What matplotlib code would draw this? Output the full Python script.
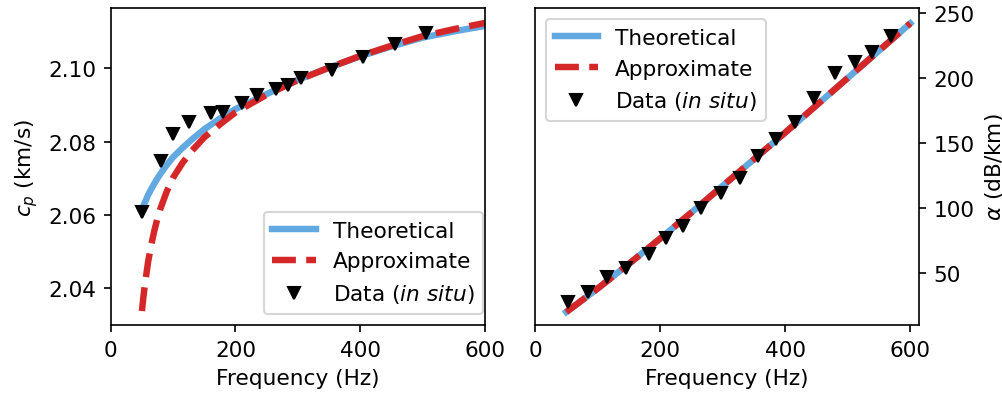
import matplotlib
matplotlib.use("Agg")
import matplotlib.pyplot as plt

plt.rcParams['font.size'] = 10.4

# ---- data: left panel (phase velocity) ----
freq_curve = [50, 52.5, 55, 60, 65, 70, 75, 80, 90, 100, 115, 130, 150, 175, 200, 250, 300, 350, 400, 450, 500, 550, 600]
cp_theory = [2.0615, 2.0625, 2.0635, 2.0655, 2.0671, 2.0686, 2.0700, 2.0713, 2.0737, 2.0758, 2.0783,
             2.0806, 2.0834, 2.0863, 2.0889, 2.0930, 2.0969, 2.1002, 2.1033, 2.1060, 2.1084, 2.1101, 2.1116]
cp_approx = [2.0338, 2.0378, 2.0413, 2.0473, 2.0519, 2.0558, 2.0591, 2.0619, 2.0665, 2.0702, 2.0742,
             2.0775, 2.0812, 2.0847, 2.0880, 2.0928, 2.0968, 2.1002, 2.1034, 2.1062, 2.1088, 2.1107, 2.1124]
freq_cp_data = [50, 80, 100, 125, 160, 180, 210, 235, 265, 285, 305, 355, 405, 455, 505]
cp_data = [2.0607, 2.0748, 2.0822, 2.0854, 2.0877, 2.0881, 2.0905, 2.0927, 2.0945, 2.0955,
           2.0974, 2.0996, 2.1030, 2.1066, 2.1096]

# ---- data: right panel (attenuation) ----
freq_line = [50, 100, 150, 200, 250, 300, 350, 400, 450, 500, 550, 600]
alpha_theory = [20, 38, 57, 76.5, 96.5, 117, 137.5, 158, 179, 200, 221, 242]
alpha_approx = [20, 38, 57, 76.5, 96.5, 117, 137.5, 158, 179, 200, 221, 242]
freq_alpha_data = [52, 84, 115, 145, 182, 210, 237, 265, 298, 327, 356, 385, 415, 446, 479, 511, 539, 569]
alpha_data = [27.5, 35.6, 46.7, 53.6, 64.6, 77, 86.4, 99.8, 111.3, 123.1, 140.2, 153.1,
              166.4, 184.4, 203.6, 212.1, 220.2, 232.1]

blue = '#62a9e2'
red = '#d62728'

fig = plt.figure(figsize=(6.68, 2.6333), dpi=150)
ax1 = fig.add_axes([0.1105, 0.1747, 0.3735, 0.8018])
ax2 = fig.add_axes([0.534, 0.1747, 0.3832, 0.8018])

ax1.plot(freq_curve, cp_theory, color=blue, lw=3.1, label='Theoretical')
ax1.plot(freq_curve, cp_approx, color=red, lw=3.1, ls='--', label='Approximate')
ax1.plot(freq_cp_data, cp_data, 'v', color='black', ms=6.2, label='Data ($\\it{in\\ situ}$)')
ax1.set_xlim(0, 600)
ax1.set_ylim(2.0300, 2.1164)
ax1.set_xticks([0, 200, 400, 600])
ax1.set_yticks([2.04, 2.06, 2.08, 2.10])
ax1.set_xlabel('Frequency (Hz)')
ax1.set_ylabel('$c_p$ (km/s)')
ax1.legend(loc='lower right', bbox_to_anchor=(0.996, 0.035), borderaxespad=0)

ax2.plot(freq_line, alpha_theory, color=blue, lw=3.1, label='Theoretical')
ax2.plot(freq_line, alpha_approx, color=red, lw=3.1, ls='--', label='Approximate')
ax2.plot(freq_alpha_data, alpha_data, 'v', color='black', ms=6.2, label='Data ($\\it{in\\ situ}$)')
ax2.set_xlim(0, 614)
ax2.set_ylim(10, 253.6)
ax2.set_xticks([0, 200, 400, 600])
ax2.set_yticks([50, 100, 150, 200, 250])
ax2.yaxis.tick_right()
ax2.yaxis.set_label_position('right')
ax2.set_xlabel('Frequency (Hz)')
ax2.set_ylabel('$\\alpha$ (dB/km)')
ax2.legend(loc='upper left')

fig.savefig('out.png', dpi=150)
